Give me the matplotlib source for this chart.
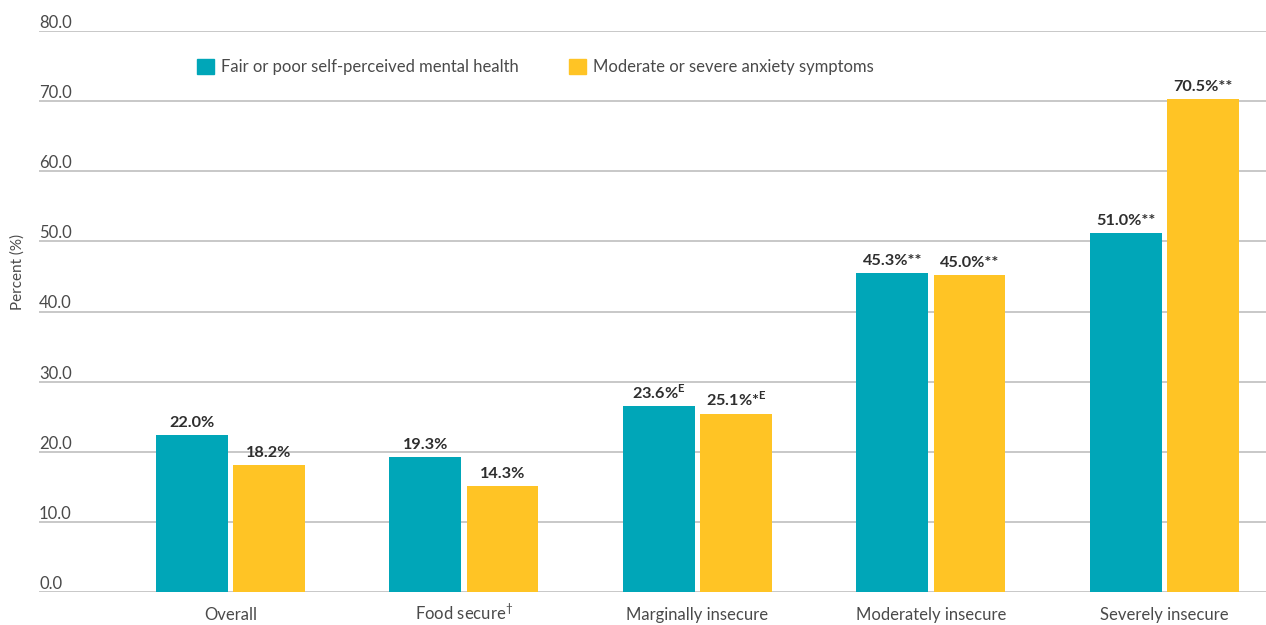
import matplotlib
matplotlib.use('Agg')
import matplotlib.pyplot as plt
from matplotlib.patches import Patch
import numpy as np

# --- Settings ---
plt.rcParams['font.family'] = ['Lato', 'DejaVu Sans']
plt.rcParams['mathtext.fontset'] = 'custom'
plt.rcParams['mathtext.rm'] = 'Lato'
plt.rcParams['mathtext.bf'] = 'Lato:bold'

TEAL = '#00A6B8'
YELLOW = '#FFC425'
GRID = '#C8C8C8'
TEXT = '#4A4A4A'

# --- Data ---
categories = ['Overall', 'Food secure$^{\\mathrm{†}}$', 'Marginally insecure',
              'Moderately insecure', 'Severely insecure']
mental_health = [22.4, 19.3, 26.5, 45.5, 51.2]
anxiety = [18.1, 15.1, 25.4, 45.2, 70.3]
mental_labels = ['22.0%', '19.3%', '23.6%$^{\\mathbf{E}}$', '45.3%**', '51.0%**']
anxiety_labels = ['18.2%', '14.3%', '25.1%*$^{\\mathbf{E}}$', '45.0%**', '70.5%**']
series_names = ['Fair or poor self-perceived mental health',
                'Moderate or severe anxiety symptoms']
yticks = [0, 10, 20, 30, 40, 50, 60, 70, 80]

fig = plt.figure(figsize=(12.66, 6.25), dpi=100)
ax = fig.add_axes([39 / 1266, 1 - 592 / 625, 1 - 39 / 1266, (592 - 31) / 625])

x = np.arange(len(categories))
width = 0.308
offset = 0.165

b1 = ax.bar(x - offset, mental_health, width, color=TEAL, zorder=3)
b2 = ax.bar(x + offset, anxiety, width, color=YELLOW, zorder=3)

for bars, labels in [(b1, mental_labels), (b2, anxiety_labels)]:
    for bar, lab in zip(bars, labels):
        ax.annotate(lab, (bar.get_x() + bar.get_width() / 2, bar.get_height()),
                    xytext=(0, 3.5), textcoords='offset points', ha='center', va='bottom',
                    fontsize=11.7, fontweight='bold', color='#2E2E2E', zorder=4)

# gridlines with labels sitting above them
for t in yticks:
    ax.axhline(t, color=GRID, linewidth=1.4, zorder=1)
    ax.text(0, t, f'{t:.1f}', transform=ax.get_yaxis_transform(), ha='left', va='bottom',
            fontsize=12, color=TEXT)

ax.set_xlim(-0.82, 4.435)
ax.set_ylim(0, 80)
ax.set_yticks([])
ax.set_xticks(x)
ax.set_xticklabels(categories, fontsize=12, color=TEXT)
ax.tick_params(axis='x', length=0, pad=20)
for lbl in ax.get_xticklabels():
    lbl.set_va('baseline')
for s in ax.spines.values():
    s.set_visible(False)

fig.text(18 / 1266, 1 - 272 / 625, 'Percent (%)', rotation=90, ha='center', va='center',
         fontsize=11, color=TEXT)

handles = [Patch(color=TEAL), Patch(color=YELLOW)]
fig.legend(handles, series_names, loc='center left', bbox_to_anchor=(197 / 1266, 1 - 67 / 625),
           ncol=2, frameon=False, fontsize=12, handlelength=1.0, handleheight=1.0,
           handletextpad=0.45, columnspacing=3.0, borderpad=0, borderaxespad=0,
           labelcolor=TEXT)

fig.savefig('out.png', dpi=100)
